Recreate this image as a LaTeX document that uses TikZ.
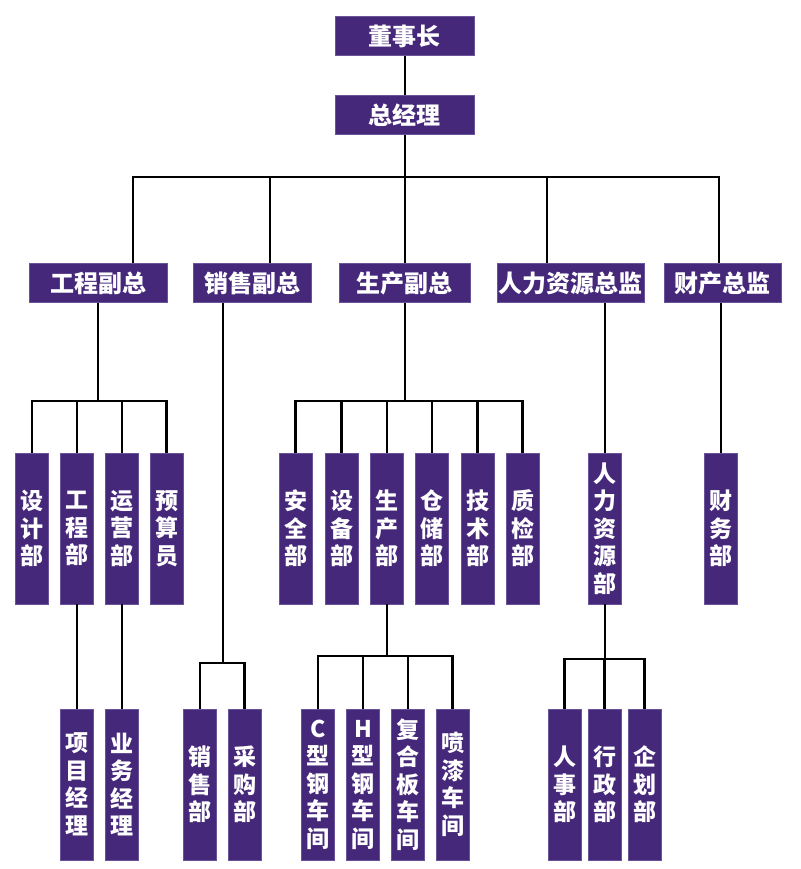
\documentclass[tikz,border=0pt]{standalone}
\usepackage{fontspec}
\newfontfamily\cjk{Noto Sans CJK SC}
\definecolor{pur}{HTML}{46287A}
\definecolor{purline}{HTML}{6A5499}
\tikzset{
  hbox/.style={rectangle, fill=pur, draw=purline, line width=0.8pt, inner sep=0pt,
    text=white, font=\cjk\bfseries\fontsize{24}{28}\selectfont, minimum height=39pt},
  vbox/.style={rectangle, fill=pur, draw=purline, line width=0.8pt, inner sep=0pt,
    text=white, font=\cjk\bfseries\fontsize{23}{27.5}\selectfont, align=center,
    minimum width=33pt, minimum height=151pt, text width=33pt},
  link/.style={draw=black, line width=2.6pt, line join=miter}
}
\begin{document}
\begin{tikzpicture}[x=1pt,y=-1pt]
\useasboundingbox (0,0) rectangle (800,869);
% top
\node[hbox, minimum width=139pt] (chair) at (404.5,36) {董事长};
\node[hbox, minimum width=139pt] (gm) at (404.5,115) {总经理};
% tier 2
\node[hbox, minimum width=138pt] (v1) at (98,283) {工程副总};
\node[hbox, minimum width=118pt] (v2) at (252,283) {销售副总};
\node[hbox, minimum width=131pt] (v3) at (404.5,283) {生产副总};
\node[hbox, minimum width=147pt] (v4) at (570.5,283) {人力资源总监};
\node[hbox, minimum width=117pt] (v5) at (722.5,283) {财产总监};
% row 1
\node[vbox] (d1) at (32,528.5) {设\\计\\部};
\node[vbox] (d2) at (77,528.5) {工\\程\\部};
\node[vbox] (d3) at (122,528.5) {运\\营\\部};
\node[vbox] (d4) at (166.5,528.5) {预\\算\\员};
\node[vbox] (p1) at (295.5,528.5) {安\\全\\部};
\node[vbox] (p2) at (341.5,528.5) {设\\备\\部};
\node[vbox] (p3) at (387,528.5) {生\\产\\部};
\node[vbox] (p4) at (432,528.5) {仓\\储\\部};
\node[vbox] (p5) at (477.5,528.5) {技\\术\\部};
\node[vbox] (p6) at (522.5,528.5) {质\\检\\部};
\node[vbox] (hr) at (605,528.5) {人\\力\\资\\源\\部};
\node[vbox] (fin) at (721,528.5) {财\\务\\部};
% row 2
\node[vbox] (e1) at (77,784.5) {项\\目\\经\\理};
\node[vbox] (e2) at (122,784.5) {业\\务\\经\\理};
\node[vbox] (s1) at (200,784.5) {销\\售\\部};
\node[vbox] (s2) at (244.5,784.5) {采\\购\\部};
\node[vbox] (w1) at (318,784.5) {C\\型\\钢\\车\\间};
\node[vbox] (w2) at (363,784.5) {H\\型\\钢\\车\\间};
\node[vbox] (w3) at (408,784.5) {复\\合\\板\\车\\间};
\node[vbox] (w4) at (452.5,784.5) {喷\\漆\\车\\间};
\node[vbox] (h1) at (564.5,784.5) {人\\事\\部};
\node[vbox] (h2) at (604.5,784.5) {行\\政\\部};
\node[vbox] (h3) at (644.5,784.5) {企\\划\\部};
% bus coordinates
\coordinate (b1) at (133,177);
\coordinate (b2) at (270,177);
\coordinate (b3) at (405,177);
\coordinate (b4) at (547,177);
\coordinate (b5) at (719,177);
\coordinate (eb) at (98,401);
\coordinate (pb) at (405,401);
\coordinate (sb) at (223,663);
\coordinate (wb) at (387,656);
\coordinate (hb) at (605,659);
% connectors
\draw[link] (chair.south -| b3) -- (gm.north -| b3);
\draw[link] (gm.south -| b3) -- (b3);
\draw[link] (b1 |- v1.north) -- (b1) -- (b5) -- (b5 |- v5.north);
\draw[link] (b2) -- (b2 |- v2.north);
\draw[link] (b3) -- (b3 |- v3.north);
\draw[link] (b4) -- (b4 |- v4.north);
% engineering
\draw[link] (v1.south -| eb) -- (eb);
\draw[link] (d1.north) -- (d1.north |- eb) -- (d4.north |- eb) -- (d4.north);
\draw[link] (d2.north) -- (d2.north |- eb);
\draw[link] (d3.north) -- (d3.north |- eb);
\draw[link] (d2.south) -- (e1.north);
\draw[link] (d3.south) -- (e2.north);
% sales
\draw[link] (v2.south -| sb) -- (sb);
\draw[link] (s1.north) -- (s1.north |- sb) -- (s2.north |- sb) -- (s2.north);
% production
\draw[link] (v3.south -| pb) -- (pb);
\draw[link] (p1.north) -- (p1.north |- pb) -- (p6.north |- pb) -- (p6.north);
\draw[link] (p2.north) -- (p2.north |- pb);
\draw[link] (p3.north) -- (p3.north |- pb);
\draw[link] (p4.north) -- (p4.north |- pb);
\draw[link] (p5.north) -- (p5.north |- pb);
\draw[link] (p3.south) -- (wb);
\draw[link] (w1.north) -- (w1.north |- wb) -- (w4.north |- wb) -- (w4.north);
\draw[link] (w2.north) -- (w2.north |- wb);
\draw[link] (w3.north) -- (w3.north |- wb);
% HR
\draw[link] (v4.south -| hr.north) -- (hr.north);
\draw[link] (hr.south) -- (hb);
\draw[link] (h1.north) -- (h1.north |- hb) -- (h3.north |- hb) -- (h3.north);
\draw[link] (h2.north) -- (h2.north |- hb);
% finance
\draw[link] (v5.south -| fin.north) -- (fin.north);
\end{tikzpicture}
\end{document}
